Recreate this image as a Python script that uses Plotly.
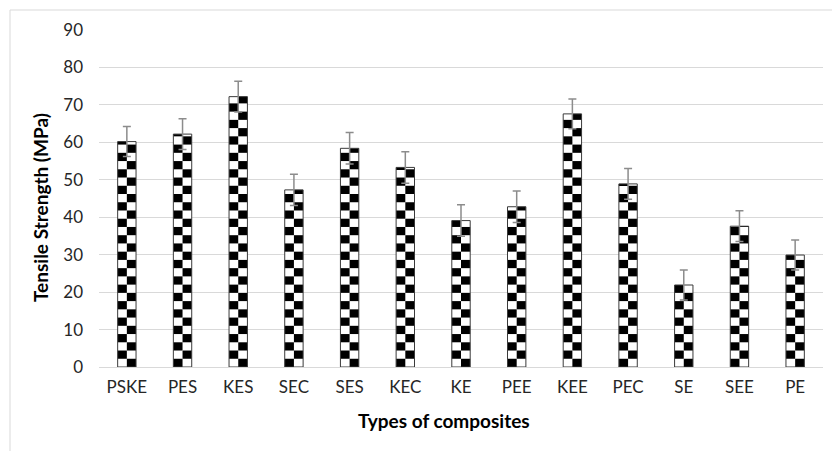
import math
import plotly.graph_objects as go

categories = ["PSKE", "PES", "KES", "SEC", "SES", "KEC", "KE", "PEE", "KEE", "PEC", "SE", "SEE", "PE"]
strength = [60.2, 62.2, 72.2, 47.3, 58.4, 53.3, 39.1, 42.8, 67.6, 48.9, 21.9, 37.6, 29.9]
errors = [4.0, 4.1, 4.1, 4.2, 4.2, 4.2, 4.2, 4.2, 4.0, 4.1, 4.0, 4.1, 4.0]
y_ticks = [0, 10, 20, 30, 40, 50, 60, 70, 80, 90]

# checkerboard styling (visual only)
SQ = 2.2       # square height in data units
BW = 0.33      # total bar width in category units

OFF = 8        # page body margin
W, H = 840 - OFF, 451 - OFF
plot_l, plot_r, plot_t, plot_b = 99 - OFF, 823 - OFF, 30 - OFF, 367 - OFF
L, R, T, B = plot_l, W - plot_r, plot_t, H - plot_b
pw, ph = plot_r - plot_l, plot_b - plot_t


def px(x):
    return (x - OFF - plot_l) / pw


def py(y):
    return (plot_b - (y - OFF)) / ph


blk = dict(x=[], base=[], y=[], offset=[])
wht = dict(x=[], base=[], y=[], offset=[])
for i, (cat, v) in enumerate(zip(categories, strength)):
    n = math.ceil(v / SQ)
    for k in range(n):
        b0 = k * SQ
        hgt = min(SQ, v - b0)
        for c in range(2):
            d = blk if (k + c + i) % 2 == 1 else wht
            d["x"].append(cat)
            d["base"].append(b0)
            d["y"].append(hgt)
            d["offset"].append(-BW / 2 + c * BW / 2)

fig = go.Figure()
for d, col in ((wht, "white"), (blk, "black")):
    fig.add_trace(go.Bar(
        x=d["x"], y=d["y"], base=d["base"], offset=d["offset"], width=BW / 2,
        marker=dict(color=col, line=dict(width=0)), showlegend=False, hoverinfo="skip"))

# bar outline
fig.add_trace(go.Bar(
    x=categories, y=strength, width=BW, offset=-BW / 2,
    marker=dict(color="rgba(0,0,0,0)", line=dict(color="#3a3a3a", width=1)),
    showlegend=False, hoverinfo="skip"))

fig.add_trace(go.Scatter(
    x=categories, y=strength, mode="markers",
    marker=dict(size=1, color="rgba(0,0,0,0)"),
    error_y=dict(type="data", array=errors, visible=True, color="#8c8c8c", thickness=1.5, width=4),
    showlegend=False, hoverinfo="skip"))

font_fam = "Lato, Carlito, Calibri, sans-serif"
fig.update_layout(
    width=W, height=H,
    margin=dict(l=L, r=R, t=T, b=B),
    paper_bgcolor="white", plot_bgcolor="white",
    barmode="overlay",
    font=dict(family=font_fam, size=17, color="#262626"),
    xaxis=dict(type="category", categoryorder="array", categoryarray=categories,
               showgrid=False, showline=False, ticks="", tickfont=dict(size=17),
               ticklabelstandoff=8,
               range=[-0.5, len(categories) - 0.5]),
    yaxis=dict(range=[0, 90], tickvals=y_ticks, showgrid=True, gridcolor="#d9d9d9",
               gridwidth=1, zeroline=True, zerolinecolor="#d9d9d9", zerolinewidth=1,
               showline=False, ticks="", ticklabelstandoff=15, tickfont=dict(size=17)),
    annotations=[
        dict(text="<b>Types of composites</b>", xref="paper", yref="paper",
             x=px(444), y=py(420), showarrow=False,
             font=dict(size=19, color="#000000"), xanchor="center", yanchor="middle"),
        dict(text="<b>Tensile Strength (MPa)</b>", xref="paper", yref="paper",
             x=px(40), y=py(208), showarrow=False, textangle=-90,
             font=dict(size=19, color="#000000"), xanchor="center", yanchor="middle"),
    ],
    shapes=[dict(type="rect", xref="paper", yref="paper",
                 x0=px(10), x1=px(860), y0=py(470), y1=py(10),
                 line=dict(color="#d9d9d9", width=1), fillcolor="rgba(0,0,0,0)", layer="below")],
)

fig.write_html("out.html")
